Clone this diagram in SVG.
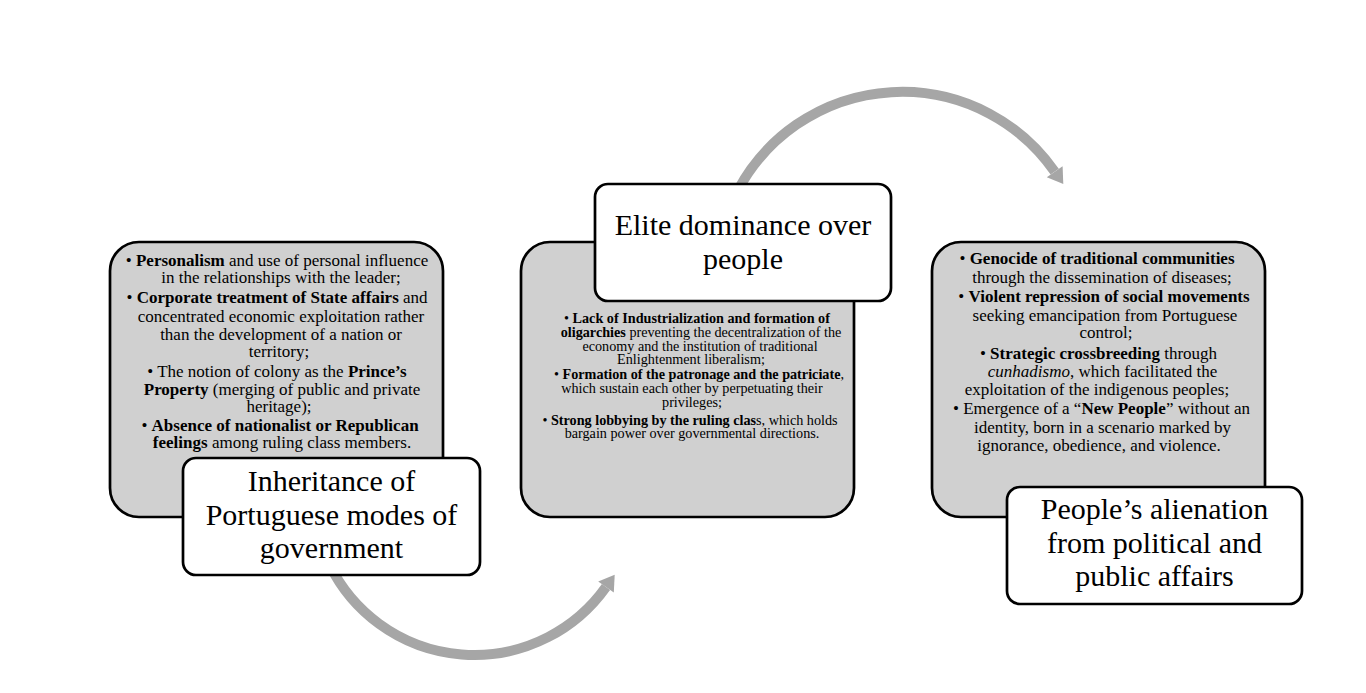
<svg xmlns="http://www.w3.org/2000/svg" width="1366" height="693" viewBox="0 0 1366 693">
<style>
.bg{fill:#ffffff}
.box{fill:#d0d0d0;stroke:#000;stroke-width:2.7}
.lab{fill:#ffffff;stroke:#000;stroke-width:2.7}
.arc{fill:none;stroke:#a6a6a6;stroke-width:10}
.head{fill:#a6a6a6}
text{font-family:"Liberation Serif","Times New Roman",serif;fill:#000;text-anchor:middle}
.t17{font-size:17px}
.t14{font-size:14.2px}
.t31{font-size:30px}
.b{font-weight:bold}
.i{font-style:italic}
</style>
<rect class="bg" x="0" y="0" width="1366" height="693"/>
<g id="connectors">
<path class="arc" d="M 329.7 565 A 161.4 161.4 0 0 0 606 587"/>
<polygon class="head" points="614.7,574.8 598.2,581.4 613.8,592.6"/>
<path class="arc" d="M 738 190 A 186 186 0 0 1 1054.7 171.7"/>
<polygon class="head" points="1063.3,184 1062.6,166.2 1046.8,177.2"/>
</g>
<g id="node1">
<rect class="box" x="110" y="242" width="333" height="275" rx="29" ry="29"/>
<text class="t17" x="277" y="265.5">• <tspan class="b">Personalism</tspan> and use of personal influence</text>
<text class="t17" x="281" y="283.3">in the relationships with the leader;</text>
<text class="t17" x="277" y="303.3">• <tspan class="b">Corporate treatment of State affairs</tspan> and</text>
<text class="t17" x="281" y="321.7">concentrated economic exploitation rather</text>
<text class="t17" x="281" y="340">than the development of a nation or</text>
<text class="t17" x="279" y="357.3">territory;</text>
<text class="t17" x="277" y="376.7">• The notion of colony as the <tspan class="b">Prince’s</tspan></text>
<text class="t17" x="282" y="395"><tspan class="b">Property</tspan> (merging of public and private</text>
<text class="t17" x="279" y="411.7">heritage);</text>
<text class="t17" x="280" y="430.7">• <tspan class="b">Absence of nationalist or Republican</tspan></text>
<text class="t17" x="282" y="448.3"><tspan class="b">feelings</tspan> among ruling class members.</text>
</g>
<g id="label1">
<rect class="lab" x="183" y="458" width="297" height="117" rx="13" ry="13"/>
<text class="t31" x="331.5" y="491"><tspan x="331.5" y="491">Inheritance of</tspan><tspan x="331.5" y="524.5">Portuguese modes of</tspan><tspan x="331.5" y="558">government</tspan></text>
</g>
<g id="node2">
<rect class="box" x="521" y="242" width="333" height="275" rx="29" ry="29"/>
<text class="t14" x="697" y="323.3">• <tspan class="b">Lack of Industrialization and formation of</tspan></text>
<text class="t14" x="701" y="336.7"><tspan class="b">oligarchies</tspan> preventing the decentralization of the</text>
<text class="t14" x="700" y="350.7">economy and the institution of traditional</text>
<text class="t14" x="691" y="364">Enlightenment liberalism;</text>
<text class="t14" x="699" y="379.3">• <tspan class="b">Formation of the patronage and the patriciate</tspan>,</text>
<text class="t14" x="692" y="392.7">which sustain each other by perpetuating their</text>
<text class="t14" x="692" y="406.7">privileges;</text>
<text class="t14" x="690" y="425">• <tspan class="b">Strong lobbying by the ruling clas</tspan>s, which holds</text>
<text class="t14" x="692" y="438.3">bargain power over governmental directions.</text>
</g>
<g id="label2">
<rect class="lab" x="595" y="184" width="296" height="117" rx="13" ry="13"/>
<text class="t31" x="743" y="235"><tspan x="743" y="235">Elite dominance over</tspan><tspan x="743" y="268.5">people</tspan></text>
</g>
<g id="node3">
<rect class="box" x="932" y="242" width="333" height="275" rx="29" ry="29"/>
<text class="t17" x="1097" y="264">• <tspan class="b">Genocide of traditional communities</tspan></text>
<text class="t17" x="1102" y="282.7">through the dissemination of diseases;</text>
<text class="t17" x="1104" y="302.3">• <tspan class="b">Violent repression of social movements</tspan></text>
<text class="t17" x="1105" y="320.7">seeking emancipation from Portuguese</text>
<text class="t17" x="1106" y="338.3">control;</text>
<text class="t17" x="1098.5" y="359">• <tspan class="b">Strategic crossbreeding</tspan> through</text>
<text class="t17" x="1102.5" y="376.7"><tspan class="i">cunhadismo</tspan>, which facilitated the</text>
<text class="t17" x="1097" y="395">exploitation of the indigenous peoples;</text>
<text class="t17" x="1101.5" y="414">• Emergence of a “<tspan class="b">New People</tspan>” without an</text>
<text class="t17" x="1102.5" y="432.7">identity, born in a scenario marked by</text>
<text class="t17" x="1099" y="450.7">ignorance, obedience, and violence.</text>
</g>
<g id="label3">
<rect class="lab" x="1007" y="487" width="295" height="117" rx="13" ry="13"/>
<text class="t31" x="1154.5" y="519"><tspan x="1154.5" y="519">People’s alienation</tspan><tspan x="1154.5" y="552.5">from political and</tspan><tspan x="1154.5" y="586">public affairs</tspan></text>
</g>
</svg>
